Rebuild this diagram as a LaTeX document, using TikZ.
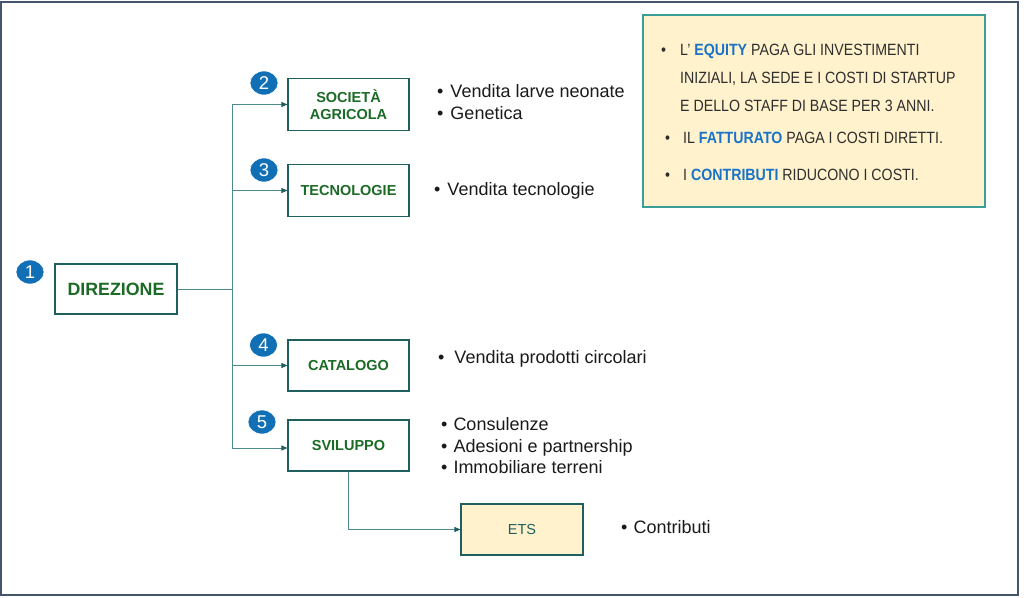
\documentclass[tikz,border=0pt]{standalone}
\usepackage{fontspec}
\setmainfont{Liberation Sans}
\newfontfamily\notefont[FakeStretch=0.87]{Liberation Sans}
\usetikzlibrary{arrows.meta,shapes.geometric}
\definecolor{framec}{HTML}{44546A}
\definecolor{boxc}{HTML}{1F5F5F}
\definecolor{linec}{HTML}{4F8A8C}
\definecolor{gr}{HTML}{1B6B26}
\definecolor{circ}{HTML}{1170B5}
\definecolor{yel}{HTML}{FFF2CC}
\definecolor{notec}{HTML}{3A9E98}
\definecolor{bl}{HTML}{1A73C8}
\definecolor{txt}{HTML}{1A1A1A}
\definecolor{ntxt}{HTML}{2E2E2E}
\tikzset{
  unitbox/.style={draw=boxc, line width=1.1pt, fill=white, minimum width=121pt, minimum height=52pt,
    text=gr, font=\bfseries\fontsize{14.5}{17.5}\selectfont, align=center, inner sep=0pt},
  numc/.style={ellipse, fill=circ, draw=white, line width=0.6pt, minimum width=28pt, minimum height=24pt,
    inner sep=0pt, text=white, font=\fontsize{18.5}{18.5}\selectfont},
  conn/.style={draw=linec, line width=0.9pt},
  arr/.style={conn, -{Triangle[length=6pt,width=5pt,fill=boxc,color=boxc]}},
  item/.style={anchor=base west, inner sep=0pt, text=txt, font=\fontsize{18}{22}\selectfont},
  nitem/.style={anchor=base west, inner sep=0pt, text=ntxt, font=\notefont\fontsize{16.3}{19}\selectfont},
}
\begin{document}
\begin{tikzpicture}[x=1pt,y=-1pt]
\useasboundingbox (0,0) rectangle (1024,597);
\draw[framec, line width=2pt] (1,2) rectangle (1018,595);

% units
\node[unitbox, minimum width=122pt, minimum height=50pt, font=\bfseries\fontsize{17.8}{20}\selectfont] (dir) at (116,289) {DIREZIONE};
\node[unitbox] (soc) at (348.5,104.5) {SOCIETÀ\\AGRICOLA};
\node[unitbox] (tec) at (348.5,190.5) {TECNOLOGIE};
\node[unitbox, minimum height=51pt] (cat) at (348.5,365.5) {CATALOGO};
\node[unitbox, minimum height=51pt] (svi) at (348.5,445.5) {SVILUPPO};
\node[unitbox, minimum width=122pt, minimum height=51pt, fill=yel, text=boxc, font=\fontsize{14.5}{17}\selectfont] (ets) at (522,529.5) {ETS};

% numbers
\node[numc] (n1) at (30,272) {1};
\node[numc] (n2) at (264,83) {2};
\node[numc] (n3) at (264,170) {3};
\node[numc] (n4) at (263.5,345) {4};
\node[numc] (n5) at (262,422) {5};

% connectors
\coordinate (trunk) at (232,289);
\draw[conn] (dir.east) -- (trunk);
\draw[arr] (trunk) |- (soc.west);
\draw[arr] (trunk) |- (tec.west);
\draw[arr] (trunk) |- (cat.west);
\draw[arr] (trunk) |- ([yshift=-2.5pt]svi.west);
\draw[arr] (svi.south) |- (ets.west);

% bullet texts
\node[item] (b1) at (437,97) {\textbullet\hspace{7pt}Vendita larve neonate};
\node[item] (b2) at (437,119) {\textbullet\hspace{7pt}Genetica};
\node[item] (b3) at (434,195) {\textbullet\hspace{7pt}Vendita tecnologie};
\node[item] (b4) at (438,363) {\textbullet\hspace{10pt}Vendita prodotti circolari};
\node[item] (b5) at (441,430) {\textbullet\hspace{6pt}Consulenze};
\node[item] (b6) at (441,452) {\textbullet\hspace{6pt}Adesioni e partnership};
\node[item] (b7) at (441,473) {\textbullet\hspace{6pt}Immobiliare terreni};
\node[item] (b8) at (621,533) {\textbullet\hspace{6pt}Contributi};

% note box
\node[draw=notec, fill=yel, line width=1.4pt, minimum width=342pt, minimum height=192pt, inner sep=0pt] (note) at (814,111) {};
\node[nitem] (t1b) at (661,55) {\textbullet};
\node[nitem] (t1) at (680,55) {L’ \textcolor{bl}{\bfseries EQUITY} PAGA GLI INVESTIMENTI};
\node[nitem] (t2) at (680,83) {INIZIALI, LA SEDE E I COSTI DI STARTUP};
\node[nitem] (t3) at (680,111) {E DELLO STAFF DI BASE PER 3 ANNI.};
\node[nitem] (t4b) at (665,143) {\textbullet};
\node[nitem] (t4) at (683,143) {IL \textcolor{bl}{\bfseries FATTURATO} PAGA I COSTI DIRETTI.};
\node[nitem] (t5b) at (665,180) {\textbullet};
\node[nitem] (t5) at (683,180) {I \textcolor{bl}{\bfseries CONTRIBUTI} RIDUCONO I COSTI.};
\end{tikzpicture}
\end{document}
